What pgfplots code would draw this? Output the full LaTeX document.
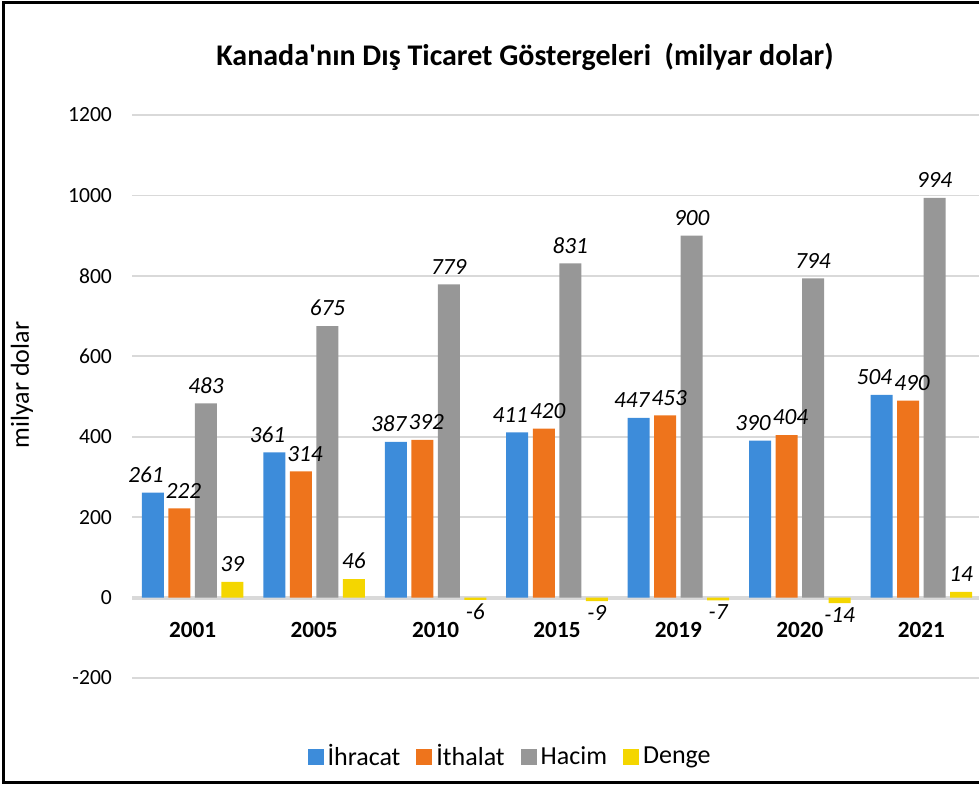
\documentclass[border=0pt]{standalone}
\usepackage{pgfplots}
\pgfplotsset{compat=1.18}
\usepackage{fontspec}
\setmainfont{Carlito}

\definecolor{cBlue}{HTML}{3D8CDA}
\definecolor{cOrange}{HTML}{EE741C}
\definecolor{cGray}{HTML}{979797}
\definecolor{cYellow}{HTML}{F4D600}
\definecolor{gridc}{HTML}{D9D9D9}

% square legend markers instead of the default twin bars
\pgfplotsset{
    /pgfplots/ybar legend/.style={
        /pgfplots/legend image code/.code={\fill[##1] (0pt,-4pt) rectangle (8pt,4pt);}},
}

\begin{document}
\begin{tikzpicture}
\useasboundingbox (0,0) rectangle (489.5pt,392.5pt);

\begin{axis}[
    at={(66pt,53.5pt)}, anchor=south west,
    scale only axis,
    width=425pt, height=281.5pt,
    xmin=-0.5, xmax=6.5,
    ymin=-200, ymax=1200,
    ytick={-200,0,...,1200},
    xtick={0,...,6},
    xticklabels={2001,2005,2010,2015,2019,2020,2021},
    axis line style={draw=none},
    major tick length=0pt,
    ymajorgrids,
    grid style={gridc, line width=0.8pt},
    extra y ticks={0},
    extra y tick labels={},
    extra y tick style={grid style={gridc, line width=2pt}},
    /pgf/number format/assume math mode=true,
    /pgf/number format/1000 sep={},
    yticklabel style={font=\fontsize{10.8}{12}\selectfont, xshift=-6.5pt},
    xticklabel style={font=\fontsize{11.6}{13}\bfseries, yshift=31.5pt},
    ybar=2.25pt, bar width=11pt,
    nodes near coords,
    nodes near coords style={font=\fontsize{11.6}{14}\itshape, black, yshift=1.5pt},
    clip=false,
    legend columns=4,
    legend style={at={(0.446,-0.140)}, anchor=center, draw=none, fill=none,
        font=\fontsize{13}{15}\selectfont,
        /tikz/every even column/.append style={column sep=6pt}},
]
\addplot[draw=none, fill=cBlue, nodes near coords style={xshift=-3.5pt}]
coordinates {(0,261) (1,361) (2,387) (3,411) (4,447) (5,390) (6,504)};
\addplot[draw=none, fill=cOrange, nodes near coords style={xshift=2pt}]
coordinates {(0,222) (1,314) (2,392) (3,420) (4,453) (5,404) (6,490)};
\addplot[draw=none, fill=cGray]
coordinates {(0,483) (1,675) (2,779) (3,831) (4,900) (5,794) (6,994)};
\addplot[draw=none, fill=cYellow]
coordinates {(0,39) (1,46) (2,-6) (3,-9) (4,-7) (5,-14) (6,14)};
\legend{İhracat, İthalat, Hacim, Denge}
\end{axis}

\node[font=\fontsize{15}{17}\selectfont\bfseries] at (262.5pt,364pt)
    {Kanada\textquotesingle nın Dış Ticaret Göstergeleri\ \ (milyar dolar)};
\node[rotate=90, font=\fontsize{13}{15}\selectfont] at (11pt,200pt) {milyar dolar};

\draw[black, line width=1.5pt] (489.5pt,391.2pt) -- (1.5pt,391.2pt)
    -- (1.5pt,1.2pt) -- (489.5pt,1.2pt);
\end{tikzpicture}
\end{document}
